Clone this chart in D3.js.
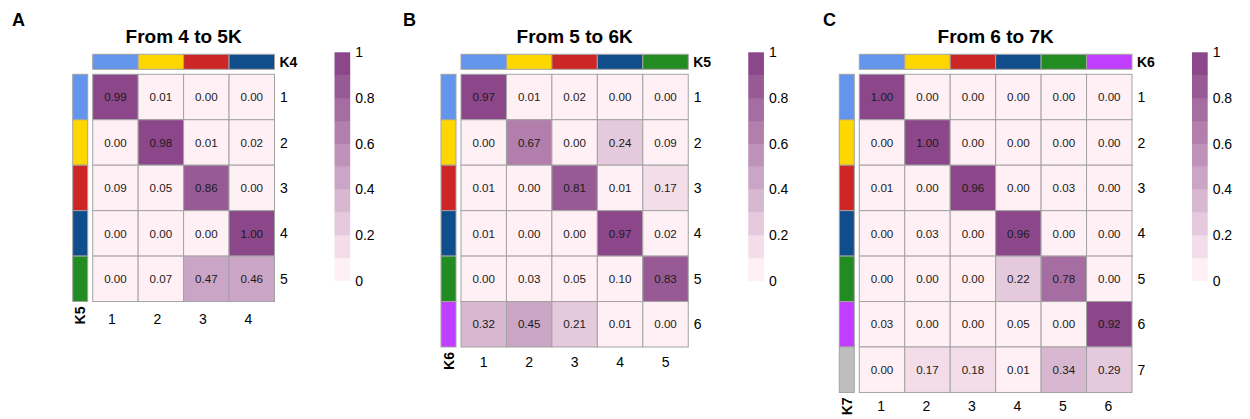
<!DOCTYPE html>
<html>
<head>
<meta charset="utf-8">
<script src="https://cdn.jsdelivr.net/npm/d3@7"></script>
<style>
  html, body { margin: 0; padding: 0; background: #ffffff; }
  svg { display: block; font-family: "Liberation Sans", Arial, Helvetica, sans-serif; }
</style>
</head>
<body>
<svg id="chart" width="1250" height="419"></svg>
<script>
// Cluster colours shared by every annotation bar (cluster 1..7)
const clusterColors = ["#6495ED", "#FFD700", "#CD2626", "#104E8B", "#228B22", "#BF3EFF", "#BEBEBE"];

// Panel A: K4 (columns) -> K5 (rows)
const colsA = ["1", "2", "3", "4"];
const rowsA = ["1", "2", "3", "4", "5"];
const valuesA = [
  [0.99, 0.01, 0.00, 0.00],
  [0.00, 0.98, 0.01, 0.02],
  [0.09, 0.05, 0.86, 0.00],
  [0.00, 0.00, 0.00, 1.00],
  [0.00, 0.07, 0.47, 0.46]
];

// Panel B: K5 -> K6
const colsB = ["1", "2", "3", "4", "5"];
const rowsB = ["1", "2", "3", "4", "5", "6"];
const valuesB = [
  [0.97, 0.01, 0.02, 0.00, 0.00],
  [0.00, 0.67, 0.00, 0.24, 0.09],
  [0.01, 0.00, 0.81, 0.01, 0.17],
  [0.01, 0.00, 0.00, 0.97, 0.02],
  [0.00, 0.03, 0.05, 0.10, 0.83],
  [0.32, 0.45, 0.21, 0.01, 0.00]
];

// Panel C: K6 -> K7
const colsC = ["1", "2", "3", "4", "5", "6"];
const rowsC = ["1", "2", "3", "4", "5", "6", "7"];
const valuesC = [
  [1.00, 0.00, 0.00, 0.00, 0.00, 0.00],
  [0.00, 1.00, 0.00, 0.00, 0.00, 0.00],
  [0.01, 0.00, 0.96, 0.00, 0.03, 0.00],
  [0.00, 0.03, 0.00, 0.96, 0.00, 0.00],
  [0.00, 0.00, 0.00, 0.22, 0.78, 0.00],
  [0.03, 0.00, 0.00, 0.05, 0.00, 0.92],
  [0.00, 0.17, 0.18, 0.01, 0.34, 0.29]
];

const legendTicks = [0, 0.2, 0.4, 0.6, 0.8, 1];
const legendSteps = 10;

const panels = [
  { tag: "A", title: "From 4 to 5K", colName: "K4", rowName: "K5", cols: colsA, rows: rowsA, values: valuesA,
    tagX: 12, left: 92.7, colLabelDy: 22.6, colLabelShift: -3.5 },
  { tag: "B", title: "From 5 to 6K", colName: "K5", rowName: "K6", cols: colsB, rows: rowsB, values: valuesB,
    tagX: 403, left: 461, colLabelDy: 20, colLabelShift: 0 },
  { tag: "C", title: "From 6 to 7K", colName: "K6", rowName: "K7", cols: colsC, rows: rowsC, values: valuesC,
    tagX: 823, left: 859.3, colLabelDy: 18.5, colLabelShift: -1 }
];

const cellSize = 45.45;
const gridTop = 74.3;
const barSize = 15;
const barGap = 5;
const gridStroke = "#a3a3a3";

// Lavender-blush to orchid ramp, cut into ten steps of 0.1 (intervals closed on the right)
const ramp = d3.scaleLinear().domain([0, 1]).range(["#FFF0F5", "#8B4789"]).interpolate(d3.interpolateRgb);
const stepColors = d3.range(legendSteps).map(i => ramp(i / (legendSteps - 1)));
const binOf = v => Math.max(0, Math.min(legendSteps - 1, Math.ceil(v * legendSteps - 1e-9) - 1));
const color = v => stepColors[binOf(v)];

const svg = d3.select("#chart");

panels.forEach(p => {
  const g = svg.append("g");
  const width = cellSize * p.cols.length;
  const height = cellSize * p.rows.length;

  const x = d3.scaleBand().domain(p.cols).range([p.left, p.left + width]).padding(0);
  const y = d3.scaleBand().domain(p.rows).range([gridTop, gridTop + height]).padding(0);

  // Panel tag
  g.append("text").attr("x", p.tagX).attr("y", 26)
    .attr("font-size", 18).attr("font-weight", "bold").attr("fill", "#000").text(p.tag);

  // Title
  g.append("text").attr("x", p.left + width / 2).attr("y", 43)
    .attr("text-anchor", "middle").attr("font-size", 19).attr("font-weight", "bold")
    .attr("fill", "#000").text(p.title);

  // Column annotation bar
  const barY = gridTop - barGap - barSize;
  g.selectAll("rect.colbar").data(p.cols).join("rect")
    .attr("class", "colbar")
    .attr("x", d => x(d)).attr("y", barY)
    .attr("width", x.bandwidth()).attr("height", barSize)
    .attr("fill", (d, i) => clusterColors[i])
    .attr("stroke", gridStroke).attr("stroke-width", 1);
  g.append("text").attr("x", p.left + width + 5).attr("y", barY + barSize / 2)
    .attr("dy", "0.36em").attr("font-size", 14).attr("font-weight", "bold").attr("fill", "#000")
    .text(p.colName);

  // Row annotation bar
  const barX = p.left - barGap - barSize;
  g.selectAll("rect.rowbar").data(p.rows).join("rect")
    .attr("class", "rowbar")
    .attr("x", barX).attr("y", d => y(d))
    .attr("width", barSize).attr("height", y.bandwidth())
    .attr("fill", (d, i) => clusterColors[i])
    .attr("stroke", gridStroke).attr("stroke-width", 1);
  g.append("text")
    .attr("transform", `translate(${barX + barSize / 2},${gridTop + height + 5}) rotate(-90)`)
    .attr("text-anchor", "end").attr("dy", "0.36em")
    .attr("font-size", 14).attr("font-weight", "bold").attr("fill", "#000")
    .text(p.rowName);

  // Heatmap cells
  const cells = [];
  p.values.forEach((row, ri) => row.forEach((v, ci) => cells.push({ r: p.rows[ri], c: p.cols[ci], v })));

  g.selectAll("rect.cell").data(cells).join("rect")
    .attr("class", "cell")
    .attr("x", d => x(d.c)).attr("y", d => y(d.r))
    .attr("width", x.bandwidth()).attr("height", y.bandwidth())
    .attr("fill", d => color(d.v))
    .attr("stroke", gridStroke).attr("stroke-width", 1);

  g.selectAll("text.val").data(cells).join("text")
    .attr("class", "val")
    .attr("x", d => x(d.c) + x.bandwidth() / 2)
    .attr("y", d => y(d.r) + y.bandwidth() / 2)
    .attr("dy", "0.36em").attr("text-anchor", "middle")
    .attr("font-size", 11.6).attr("fill", "#1a1a1a")
    .text(d => d.v.toFixed(2));

  // Row labels (right side)
  g.selectAll("text.rowlab").data(p.rows).join("text")
    .attr("class", "rowlab")
    .attr("x", p.left + width + 5.5)
    .attr("y", d => y(d) + y.bandwidth() / 2)
    .attr("dy", "0.36em").attr("font-size", 14).attr("fill", "#000")
    .text(d => d);

  // Column labels (bottom)
  g.selectAll("text.collab").data(p.cols).join("text")
    .attr("class", "collab")
    .attr("x", d => x(d) + x.bandwidth() / 2 + p.colLabelShift)
    .attr("y", gridTop + height + p.colLabelDy)
    .attr("text-anchor", "middle").attr("font-size", 14).attr("fill", "#000")
    .text(d => d);

  // Colour legend: one block per step, darkest on top
  const legX = p.left + width + 60;
  const legTop = 52.3, legBottom = 280.7;
  const ly = d3.scaleLinear().domain([0, 1]).range([legBottom, legTop]);
  const stepH = (legBottom - legTop) / legendSteps;
  const steps = d3.range(legendSteps);
  g.selectAll("rect.leg").data(steps).join("rect")
    .attr("class", "leg")
    .attr("x", legX).attr("y", d => ly((d + 1) / legendSteps))
    .attr("width", 15.7).attr("height", stepH + 0.3)
    .attr("fill", d => stepColors[d]);
  g.selectAll("text.legtick").data(legendTicks).join("text")
    .attr("class", "legtick")
    .attr("x", legX + 20.7).attr("y", d => ly(d))
    .attr("dy", "0.36em").attr("font-size", 14).attr("fill", "#000")
    .text(d => d3.format("")(d));
});
</script>
</body>
</html>
